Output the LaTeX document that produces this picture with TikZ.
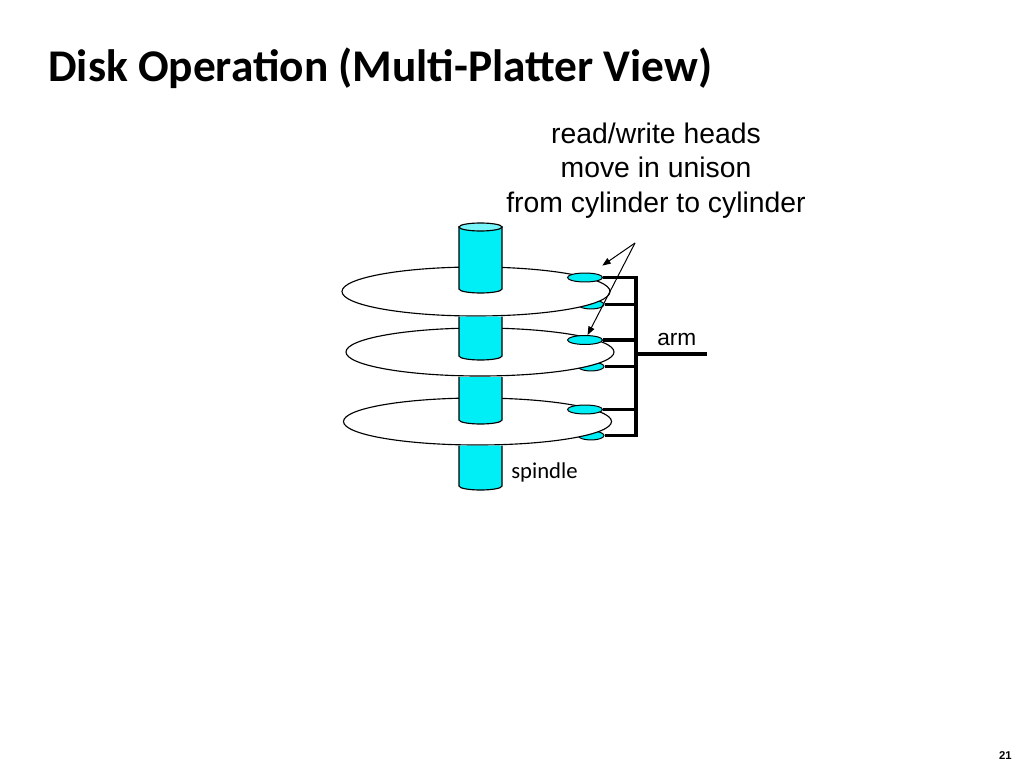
\documentclass[tikz,border=0pt]{standalone}
\usepackage{fontspec}
\setmainfont{Liberation Sans}
\newfontfamily\calibri{Carlito}
\usetikzlibrary{arrows.meta,shapes.geometric}
\definecolor{diskcyan}{RGB}{0,238,245}
\definecolor{capcyan}{RGB}{120,245,250}

\begin{document}
\begin{tikzpicture}[x=0.0248cm, y=-0.0248cm,
  every node/.style={inner sep=0pt},
  platter/.style={draw, fill=white, line width=0.8pt},
  spindle/.style={draw, fill=diskcyan, line width=0.8pt},
  head/.style={ellipse, draw, fill=diskcyan, line width=0.7pt,
    minimum width=0.868cm, minimum height=0.223cm},
  lowhead/.style={head, minimum width=0.645cm},
  armline/.style={line width=2.8pt},
  pointer/.style={line width=0.7pt, -{Triangle[length=6pt, width=4.5pt]}}]
\useasboundingbox (0,0) rectangle (1024,768);
\fill[white] (0,0) rectangle (1024,768);
% heads under the platters
\node[lowhead] (L1) at (591,304.5) {};
\node[lowhead] (L2) at (591,366.5) {};
\node[lowhead] (L3) at (591,435.5) {};
% platters
\draw[platter] (476,291.5) ellipse [x radius=134, y radius=24.5];
\draw[platter] (480,352) ellipse [x radius=134, y radius=24];
\draw[platter] (477.5,421.5) ellipse [x radius=134, y radius=23.5];
% spindle
\draw[spindle] (459,227) -- (459,289)
  arc[start angle=180, end angle=0, x radius=21.5, y radius=4] -- (502,227) -- cycle;
\draw[spindle, fill=capcyan] (480.5,227) ellipse [x radius=21.5, y radius=4];
\draw[spindle] (459,316.5) -- (459,356)
  arc[start angle=180, end angle=0, x radius=21.5, y radius=4] -- (502,316.5);
\draw[spindle] (459,377) -- (459,420)
  arc[start angle=180, end angle=0, x radius=21.5, y radius=4] -- (502,377);
\draw[spindle] (459,445.5) -- (459,486)
  arc[start angle=180, end angle=0, x radius=21.5, y radius=4] -- (502,445.5);
% heads over the platters
\node[head] (H1) at (585,277.5) {};
\node[head] (H2) at (585,340) {};
\node[head] (H3) at (585,409.5) {};
% arm
\coordinate (T) at (636,277.5);
\coordinate (B) at (636,435.5);
\coordinate (J) at (636,354);
\coordinate (E) at (707,354);
\draw[armline]
  (H1.east) -- (H1.east -| T) (L1.east) -- (L1.east -| T)
  (H2.east) -- (H2.east -| T) (L2.east) -- (L2.east -| T)
  (H3.east) -- (H3.east -| T) (L3.east) -- (L3.east -| T);
\draw[armline, line cap=rect] (T) -- (B);
\draw[armline] (J) -- (E);
% pointers
\coordinate (P) at (635,243);
\draw[pointer, shorten >=9pt] (P) -- (H1);
\draw[pointer] (P) -- (H2);
% texts
\node[font=\calibri\bfseries\fontsize{32}{38}\selectfont, anchor=base west]
  (title) at (48,82) {Disk Operation (Multi-Platter View)};
\node[font=\fontsize{20}{24.3}\selectfont, align=center, anchor=base]
  (note) at (656,212) {read/write heads\\ move in unison\\ from cylinder to cylinder};
\node[font=\fontsize{16}{19}\selectfont, anchor=base west] (arm) at (657,345) {arm};
\node[font=\calibri\fontsize{16}{19}\selectfont, anchor=base west]
  (spin) at (511,478) {spindle};
\node[font=\bfseries\fontsize{8}{10}\selectfont, anchor=base east]
  (page) at (1012,759) {21};
\end{tikzpicture}
\end{document}
